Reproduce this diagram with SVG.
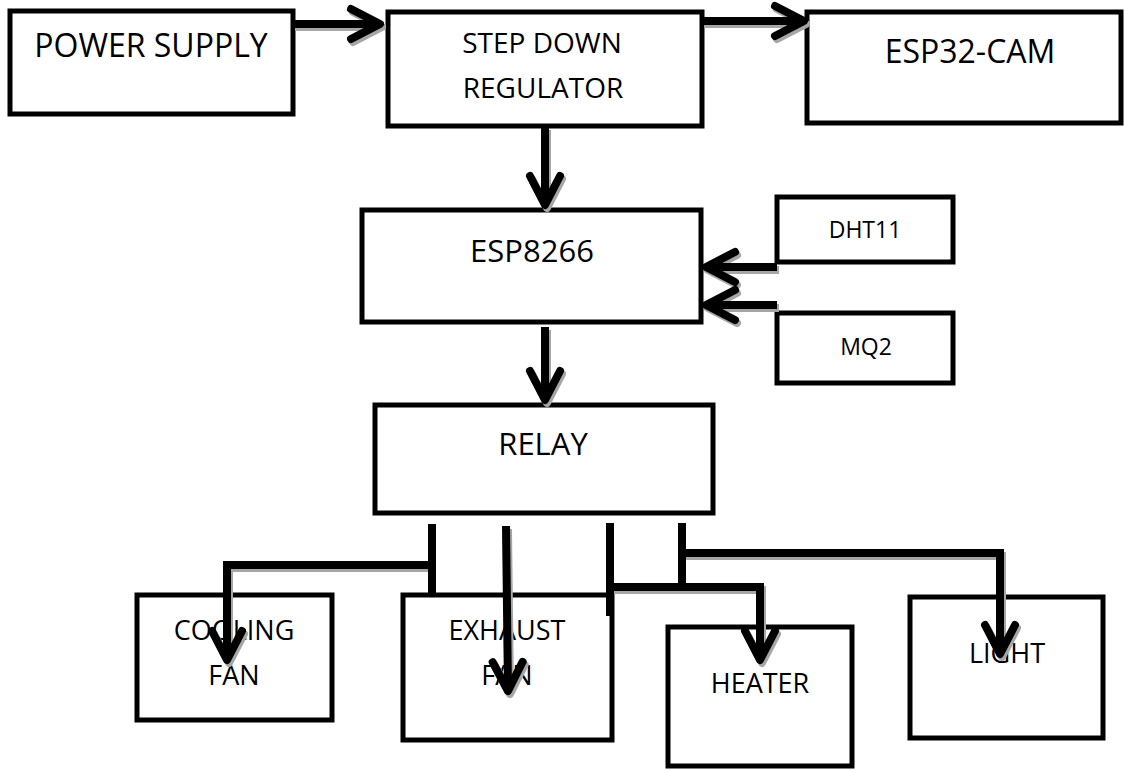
<svg xmlns="http://www.w3.org/2000/svg" xmlns:xlink="http://www.w3.org/1999/xlink" width="1124" height="770" viewBox="0 0 1124 770">
<style>
.box{fill:#fff;stroke:#000;stroke-width:5}
.t{font-family:"Open Sans","Liberation Sans",sans-serif;fill:#000;text-anchor:middle}
.line{fill:none;stroke:#000;stroke-width:8}
.shadow{fill:none;stroke:#a6a6a6;stroke-width:8}
</style>
<defs>
<marker id="ah" markerUnits="userSpaceOnUse" orient="auto" overflow="visible" refX="0" refY="0" markerWidth="1" markerHeight="1"><path d="M-29,-15 L0,0 L-29,15" fill="none" stroke="#000" stroke-width="8" stroke-linecap="round" stroke-linejoin="round"/></marker>
<marker id="ahg" markerUnits="userSpaceOnUse" orient="auto" overflow="visible" refX="0" refY="0" markerWidth="1" markerHeight="1"><path d="M-29,-15 L0,0 L-29,15" fill="none" stroke="#a6a6a6" stroke-width="8" stroke-linecap="round" stroke-linejoin="round"/></marker>
</defs>
<rect width="1124" height="770" fill="#fff"/>
<g id="power-supply"><rect class="box" x="10" y="11" width="283" height="103"/><text class="t" x="151" y="57" font-size="32">POWER SUPPLY</text></g>
<g id="step-down"><rect class="box" x="388" y="12" width="314" height="114"/><text class="t" x="542" y="53" font-size="28">STEP DOWN</text><text class="t" x="543" y="98" font-size="28">REGULATOR</text></g>
<g id="esp32cam"><rect class="box" x="807" y="12" width="314" height="111"/><text class="t" x="970" y="63" font-size="32">ESP32-CAM</text></g>
<g id="esp8266"><rect class="box" x="362" y="210" width="339" height="112"/><text class="t" x="532" y="262" font-size="31">ESP8266</text></g>
<g id="dht11"><rect class="box" x="777" y="197" width="176" height="65"/><text class="t" x="865" y="238" font-size="23">DHT11</text></g>
<g id="mq2"><rect class="box" x="777" y="313" width="176" height="70"/><text class="t" x="866" y="355" font-size="23">MQ2</text></g>
<g id="relay"><rect class="box" x="375" y="405" width="338" height="108"/><text class="t" x="543" y="455" font-size="31">RELAY</text></g>
<g id="cooling-fan"><rect class="box" x="137" y="595" width="195" height="125"/><text class="t" x="234" y="640" font-size="27">COOLING</text><text class="t" x="234" y="685" font-size="27">FAN</text></g>
<g id="exhaust-fan"><rect class="box" x="403" y="595" width="209" height="145"/><text class="t" x="507" y="640" font-size="27">EXHAUST</text><text class="t" x="507" y="685" font-size="27">FAN</text></g>
<g id="heater"><rect class="box" x="668" y="627" width="184" height="139"/><text class="t" x="760" y="693" font-size="27">HEATER</text></g>
<g id="light"><rect class="box" x="910" y="597" width="193" height="141"/><text class="t" x="1007" y="663" font-size="27">LIGHT</text></g>
<g id="connectors">
<g class="shadow" transform="translate(2,3)">
<g marker-end="url(#ahg)">
<use xlink:href="#c1"/><use xlink:href="#c2"/><use xlink:href="#c3"/><use xlink:href="#c4"/><use xlink:href="#c5"/><use xlink:href="#c6"/><use xlink:href="#c8"/><use xlink:href="#c9"/><use xlink:href="#c11"/><use xlink:href="#c13"/>
</g>
</g>
<g class="line">
<g marker-end="url(#ah)">
<path id="c1" d="M293,24 H380"/>
<path id="c2" d="M702,21 H804"/>
<path id="c3" d="M545,127 V205"/>
<path id="c4" d="M777,267 H706"/>
<path id="c5" d="M777,305 H706"/>
<path id="c6" d="M545,327 V400"/>
<path id="c8" d="M432,565 H227 V660"/>
<path id="c9" d="M506,526 L508,691"/>
<path id="c11" d="M610,587 H760 V660"/>
<path id="c13" d="M682,553 H1000 V654"/>
</g>
<path id="c7" d="M432,524 V593"/>
<path id="c10" d="M610,523 V616"/>
<path id="c12" d="M682,523 V583"/>
</g>
</g>
</svg>
